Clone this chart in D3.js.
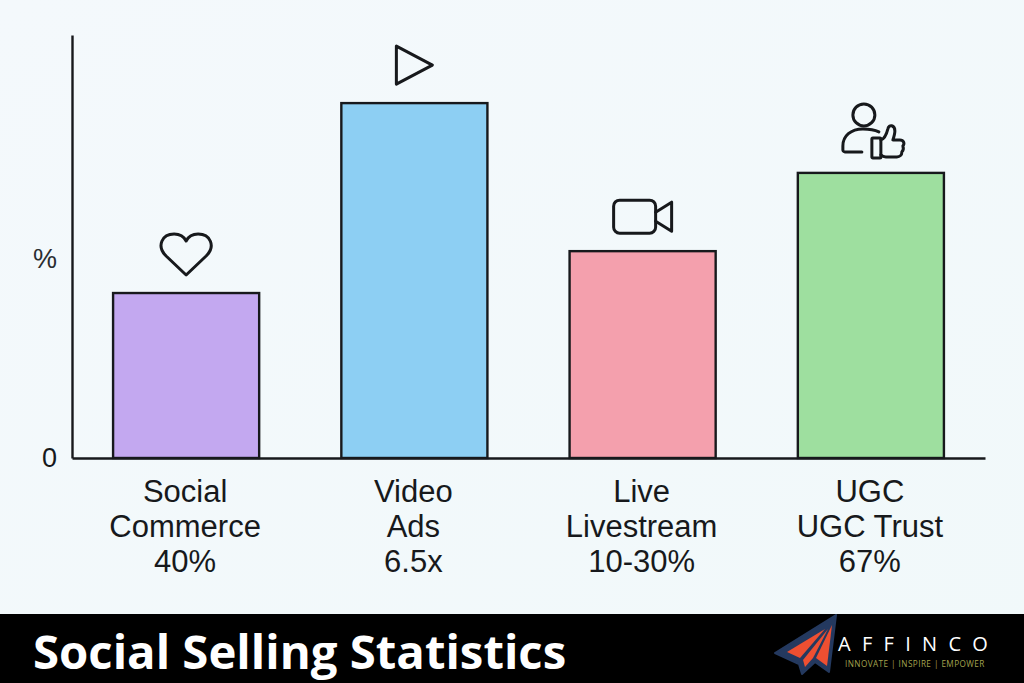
<!DOCTYPE html>
<html><head><meta charset="utf-8">
<script src="https://cdn.jsdelivr.net/npm/d3@7/dist/d3.min.js"></script>
<style>html,body{margin:0;padding:0;background:#f2f9fb;overflow:hidden}svg{display:block}</style>
</head><body><svg id="c" width="1024" height="683"></svg>
<script>
const categories = ["Social Commerce","Video Ads","Live Livestream","UGC UGC Trust"];
const labelLines = [["Social","Commerce","40%"],["Video","Ads","6.5x"],["Live","Livestream","10-30%"],["UGC","UGC Trust","67%"]];
const values = [39,83.9,48.9,67.4];
const colors = ["#c3a8f0","#8dcff3","#f4a0ad","#9edf9f"];
const tickValues = [0];
const title = "Social Selling Statistics";
const ink = "#17191c";

const svg = d3.select("#c");
const defs = svg.append("defs");
const bg = defs.append("linearGradient").attr("id","bg").attr("x1",0).attr("y1",0).attr("x2",1).attr("y2",1);
bg.append("stop").attr("offset",0).attr("stop-color","#f4f9fc");
bg.append("stop").attr("offset",1).attr("stop-color","#f1f9fa");
svg.append("rect").attr("width",1024).attr("height",683).attr("fill","url(#bg)");

const x = d3.scaleBand().domain(categories).range([72,985]).paddingInner(.36).paddingOuter(.18);
const y = d3.scaleLinear().domain([0,100]).range([458,35]);

svg.selectAll("rect.bar").data(categories).join("rect").attr("class","bar")
  .attr("x",d=>x(d)).attr("width",x.bandwidth())
  .attr("y",(d,i)=>y(values[i])).attr("height",(d,i)=>y(0)-y(values[i]))
  .attr("fill",(d,i)=>colors[i]).attr("stroke",ink).attr("stroke-width",2.4);

// axes
const yAxis = svg.append("g").attr("transform","translate(72,0)").call(d3.axisLeft(y).tickValues(tickValues).tickSize(0).tickPadding(15));
yAxis.select(".domain").attr("stroke",ink).attr("stroke-width",2.4);
yAxis.selectAll("text").attr("font-family","'Liberation Sans',sans-serif").attr("font-size",27).attr("fill",ink);
const xAxis = svg.append("g").attr("transform","translate(0,458)").call(d3.axisBottom(x).tickSize(0).tickFormat(""));
xAxis.select(".domain").attr("stroke",ink).attr("stroke-width",2.4);

svg.append("text").attr("x",45).attr("y",268).attr("text-anchor","middle")
  .attr("font-family","'Liberation Sans',sans-serif").attr("font-size",27).attr("fill","#2a2d30").text("%");

// category labels
const lab = svg.append("g").attr("font-family","'Liberation Sans',sans-serif").attr("font-size",31).attr("fill",ink).attr("text-anchor","middle");
categories.forEach((c,i)=>{
  labelLines[i].forEach((t,j)=>{
    lab.append("text").attr("x",x(c)+x.bandwidth()/2-1).attr("y",501.5+j*35.2).text(t);
  });
});

// icons, centred on their bars
const icon = (i,dy)=>svg.append("g").attr("transform",`translate(${x(categories[i])+x.bandwidth()/2},${y(values[i])+dy})`)
  .attr("fill","none").attr("stroke",ink).attr("stroke-width",3).attr("stroke-linejoin","round").attr("stroke-linecap","round");
icon(0,-39).append("path").attr("d","M0,21 L-20,2 C-30,-8 -24,-20 -12,-20 C-6,-20 -2,-17 0,-13 C2,-17 6,-20 12,-20 C24,-20 30,-8 20,2 Z");
icon(1,-38).append("path").attr("d","M-18,-19 L18,0 L-18,19 Z");
const cam = icon(2,-34);
cam.append("rect").attr("x",-29).attr("y",-17).attr("width",42).attr("height",33).attr("rx",6);
cam.append("path").attr("d","M13,-5 L29,-15 L29,14 L13,4");
const ugc = icon(3,-30);
ugc.append("circle").attr("cx",-7).attr("cy",-28).attr("r",11);
ugc.append("path").attr("d","M8,-11 C4,-13 -2,-14 -8,-14 C-20,-14 -28,-7 -28,3 L-28,7 C-28,8 -27,9 -26,9 L-9,9");
ugc.append("rect").attr("x",1).attr("y",-5).attr("width",9).attr("height",20).attr("rx",1);
ugc.append("path").attr("d","M10,-3 C14,-4 16,-10 17,-14 C18,-19 24,-18 24,-12 C24,-9 23,-6 22,-3 L29,-3 C33,-3 34,1 32,3 C33,6 32,8 31,9 C31,12 29,14 26,14 L15,14 C13,14 11,13 10,12");

// footer
svg.append("rect").attr("x",0).attr("y",614).attr("width",1024).attr("height",69).attr("fill","#000");
svg.append("text").attr("x",33).attr("y",668.5).attr("font-family","'Open Sans',sans-serif").attr("font-weight",700).attr("font-size",47.3).attr("fill","#fff").text(title);

// logo
const logo = svg.append("g");
logo.append("path").attr("d","M836,615 L775,653 L799,664 L802,674 L815,662 L829,672 Z").attr("fill","#24395f").attr("stroke","#24395f").attr("stroke-width",2).attr("stroke-linejoin","round");
logo.append("path").attr("d","M825,629 L787,652 L800,658 Z").attr("fill","#ee4f31");
logo.append("path").attr("d","M828,629 L803,660 L805,667 L813,658 Z").attr("fill","#ee4f31");
logo.append("path").attr("d","M832,625 L816,658 L827,666 Z").attr("fill","#ee4f31");
svg.append("text").attr("x",838).attr("y",651).attr("font-family","'Open Sans',sans-serif").attr("font-size",20).attr("fill","#fff").attr("letter-spacing",11.3).text("AFFINCO");
svg.append("text").attr("x",845).attr("y",667).attr("font-family","'Open Sans',sans-serif").attr("font-size",8.2).attr("fill","#a3a34e").attr("letter-spacing",.43).text("INNOVATE | INSPIRE | EMPOWER");
</script></body></html>
